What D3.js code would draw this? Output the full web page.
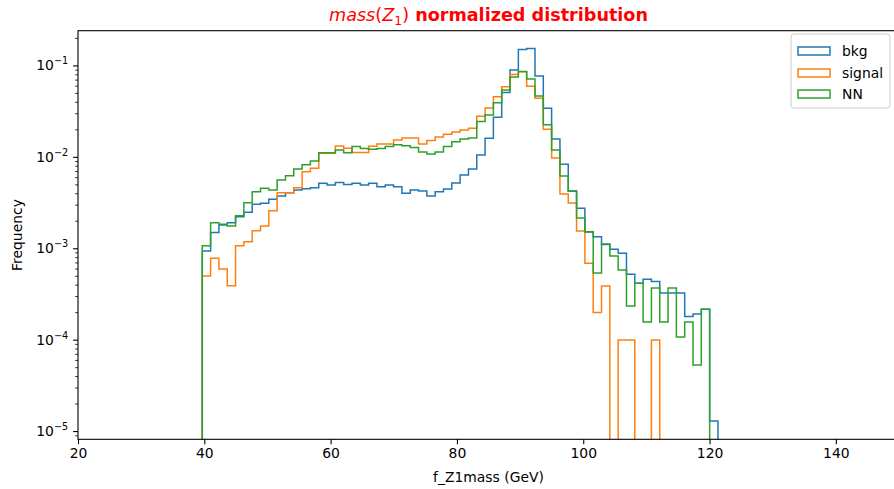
<!DOCTYPE html>
<html>
<head>
<meta charset="utf-8">
<script src="https://cdn.jsdelivr.net/npm/d3@7/dist/d3.min.js"></script>
<style>
  html, body { margin: 0; padding: 0; background: #fff; }
  svg { display: block; font-family: "DejaVu Sans", sans-serif; }
</style>
</head>
<body>
<svg id="chart" width="894" height="489"></svg>
<script>
// Histogram binning (GeV): first lower edge and common bin width
const binStart = 39.68;
const binWidth = 1.317;

// Normalised bin contents, one entry per bin (0 = empty bin)
const bkg = [
  9.33e-4, 1.49e-3, 1.80e-3, 1.90e-3, 2.21e-3, 2.47e-3, 3.03e-3, 3.10e-3, 3.43e-3, 3.73e-3,
  4.05e-3, 4.34e-3, 4.47e-3, 4.60e-3, 5.14e-3, 4.92e-3, 5.24e-3, 4.98e-3, 5.14e-3, 4.92e-3,
  5.14e-3, 4.72e-3, 4.92e-3, 4.72e-3, 3.99e-3, 4.34e-3, 4.23e-3, 3.73e-3, 4.16e-3, 4.45e-3,
  5.17e-3, 6.33e-3, 7.36e-3, 1.047e-2, 1.595e-2, 2.71e-2, 5.06e-2, 8.91e-2, 0.1494, 0.1532,
  7.66e-2, 3.40e-2, 1.567e-2, 8.29e-3, 4.23e-3, 2.735e-3, 1.517e-3, 1.338e-3, 1.099e-3, 9.74e-4,
  8.81e-4, 5.19e-4, 4.14e-4, 4.57e-4, 4.33e-4, 3.24e-4, 3.24e-4, 3.24e-4, 1.79e-4, 1.91e-4,
  2.15e-4, 1.29e-5
];
const signal = [
  4.97e-4, 7.76e-4, 5.93e-4, 3.89e-4, 1.066e-3, 1.179e-3, 1.556e-3, 1.751e-3, 2.575e-3, 4.05e-3,
  4.05e-3, 4.60e-3, 6.88e-3, 7.49e-3, 1.093e-2, 1.093e-2, 1.314e-2, 1.24e-2, 1.115e-2, 1.115e-2,
  1.304e-2, 1.382e-2, 1.382e-2, 1.528e-2, 1.607e-2, 1.607e-2, 1.382e-2, 1.509e-2, 1.648e-2, 1.764e-2,
  1.869e-2, 1.966e-2, 2.052e-2, 2.776e-2, 3.422e-2, 4.548e-2, 5.853e-2, 7.96e-2, 8.54e-2, 5.91e-2,
  4.37e-2, 2.006e-2, 9.74e-3, 3.92e-3, 3.126e-3, 1.544e-3, 6.84e-4, 1.98e-4, 3.86e-4, 0,
  9.9e-5, 9.9e-5, 0, 0, 9.9e-5, 0, 0, 0, 0, 0,
  0, 0
];
const nn = [
  1.066e-3, 1.90e-3, 1.83e-3, 1.75e-3, 2.27e-3, 3.15e-3, 4.16e-3, 4.53e-3, 4.34e-3, 5.58e-3,
  6.22e-3, 7.36e-3, 8.2e-3, 9.0e-3, 1.11e-2, 1.11e-2, 1.188e-2, 1.11e-2, 1.298e-2, 1.234e-2,
  1.209e-2, 1.234e-2, 1.298e-2, 1.358e-2, 1.32e-2, 1.265e-2, 1.13e-2, 1.074e-2, 1.13e-2, 1.298e-2,
  1.464e-2, 1.567e-2, 1.607e-2, 2.435e-2, 2.87e-2, 3.91e-2, 5.385e-2, 7.47e-2, 8.58e-2, 7.1e-2,
  4.63e-2, 2.247e-2, 1.188e-2, 6.17e-3, 4.2e-3, 2.142e-3, 1.506e-3, 5.36e-4, 1.113e-3, 8.23e-4,
  5.78e-4, 2.335e-4, 4.14e-4, 1.56e-4, 3.67e-4, 1.56e-4, 3.67e-4, 1.07e-4, 1.56e-4, 5.28e-5,
  2.15e-4, 0
];

const seriesNames = ["bkg", "signal", "NN"];
const seriesColors = ["#1f77b4", "#ff7f0e", "#2ca02c"];
const seriesValues = [bkg, signal, nn];

const xTicks = [20, 40, 60, 80, 100, 120, 140];
const yTickExponents = [-5, -4, -3, -2, -1];

const titleText = ["mass", "(", "Z", "1", ")", " normalized distribution"];
const xLabel = "f_Z1mass (GeV)";
const yLabel = "Frequency";

// Plot frame
const plot = { left: 78, right: 899, top: 30.7, bottom: 439.3 };
const svg = d3.select("#chart");

const x = d3.scaleLinear().domain([20, 150]).range([plot.left, plot.right]);
const y = d3.scaleLog().domain([Math.pow(10, -5.09), Math.pow(10, -0.62)]).range([plot.bottom, plot.top]);

svg.append("defs").append("clipPath").attr("id", "plot-clip")
  .append("rect")
  .attr("x", plot.left).attr("y", plot.top)
  .attr("width", plot.right - plot.left).attr("height", plot.bottom - plot.top);

// Step outline of one histogram; empty bins fall below the frame and are clipped
function stepPath(values) {
  const below = plot.bottom + 200;
  const yy = v => (v > 0 ? y(v) : below);
  const edges = d3.range(values.length + 1).map(i => binStart + i * binWidth);
  const pts = [[x(edges[0]), below]];
  values.forEach((v, i) => {
    pts.push([x(edges[i]), yy(v)]);
    pts.push([x(edges[i + 1]), yy(v)]);
  });
  pts.push([x(edges[values.length]), below]);
  return d3.line()(pts);
}

const gData = svg.append("g").attr("clip-path", "url(#plot-clip)");
seriesValues.forEach((vals, i) => {
  gData.append("path")
    .attr("d", stepPath(vals))
    .attr("fill", "none")
    .attr("stroke", seriesColors[i])
    .attr("stroke-width", 1.5)
    .attr("stroke-linejoin", "miter");
});

// Axes
const fontSize = 13.9;
const gx = svg.append("g").attr("transform", `translate(0,${plot.bottom})`)
  .call(d3.axisBottom(x).tickValues(xTicks).tickFormat(d3.format("d")).tickSize(4.9).tickPadding(4.4));
gx.select(".domain").remove();
gx.selectAll(".tick line").attr("stroke", "#000").attr("stroke-width", 1.1);
gx.selectAll(".tick text").attr("font-size", fontSize).attr("font-family", "DejaVu Sans").attr("fill", "#000");

const yMajor = yTickExponents.map(e => Math.pow(10, e));
const yMinor = [];
for (let e = -6; e <= 0; e++) {
  for (let m = 2; m <= 9; m++) {
    const v = m * Math.pow(10, e);
    if (v >= y.domain()[0] && v <= y.domain()[1]) yMinor.push(v);
  }
}
const gy = svg.append("g").attr("transform", `translate(${plot.left},0)`);
gy.call(d3.axisLeft(y).tickValues(yMinor).tickFormat("").tickSize(2.8));
gy.select(".domain").remove();
gy.selectAll(".tick line").attr("stroke", "#000").attr("stroke-width", 0.8);

const gyMajor = svg.append("g").attr("transform", `translate(${plot.left},0)`)
  .call(d3.axisLeft(y).tickValues(yMajor).tickFormat("").tickSize(4.9));
gyMajor.select(".domain").remove();
gyMajor.selectAll(".tick line").attr("stroke", "#000").attr("stroke-width", 1.1);

// Major labels as 10 with a raised exponent
gyMajor.selectAll(".tick").each(function (d, i) {
  const t = d3.select(this).append("text")
    .attr("x", -9.8).attr("y", 0).attr("dy", "0.32em")
    .attr("text-anchor", "end").attr("fill", "#000")
    .attr("font-size", fontSize).attr("font-family", "DejaVu Sans");
  t.append("tspan").text("10");
  t.append("tspan").attr("font-size", fontSize * 0.7).attr("dy", -6).text("\u2212" + Math.abs(yTickExponents[i]));
});

// Frame
svg.append("rect")
  .attr("x", plot.left).attr("y", plot.top)
  .attr("width", plot.right - plot.left).attr("height", plot.bottom - plot.top)
  .attr("fill", "none").attr("stroke", "#000").attr("stroke-width", 1.1);

// Axis titles
svg.append("text")
  .attr("x", (plot.left + plot.right) / 2).attr("y", 482)
  .attr("text-anchor", "middle").attr("font-size", fontSize).attr("fill", "#000")
  .text(xLabel);
svg.append("text")
  .attr("transform", `translate(22,${(plot.top + plot.bottom) / 2}) rotate(-90)`)
  .attr("text-anchor", "middle").attr("font-size", fontSize).attr("fill", "#000")
  .text(yLabel);

// Title: math part in italics with subscript, remainder bold
const title = svg.append("text")
  .attr("x", (plot.left + plot.right) / 2).attr("y", 21)
  .attr("text-anchor", "middle").attr("font-size", 17.6).attr("fill", "#ff0000");
title.append("tspan").attr("font-style", "italic").text(titleText[0]);
title.append("tspan").text(titleText[1]);
title.append("tspan").attr("font-style", "italic").text(titleText[2]);
title.append("tspan").attr("font-size", 12.4).attr("dy", 3.6).text(titleText[3]);
title.append("tspan").attr("dy", -3.6).text(titleText[4]);
title.append("tspan").attr("font-weight", "bold").text(titleText[5]);

// Legend
const leg = svg.append("g");
leg.append("rect")
  .attr("x", 791).attr("y", 34).attr("width", 99).attr("height", 74).attr("rx", 3)
  .attr("fill", "#fff").attr("fill-opacity", 0.8)
  .attr("stroke", "#cccccc").attr("stroke-width", 1);
const legRows = [51, 73, 94];
seriesNames.forEach((name, i) => {
  leg.append("rect")
    .attr("x", 798).attr("y", legRows[i] - 4).attr("width", 32).attr("height", 8)
    .attr("fill", "none").attr("stroke", seriesColors[i]).attr("stroke-width", 1.5);
  leg.append("text")
    .attr("x", 842).attr("y", legRows[i]).attr("dy", "0.35em")
    .attr("font-size", fontSize).attr("fill", "#000")
    .text(name);
});
</script>
</body>
</html>
